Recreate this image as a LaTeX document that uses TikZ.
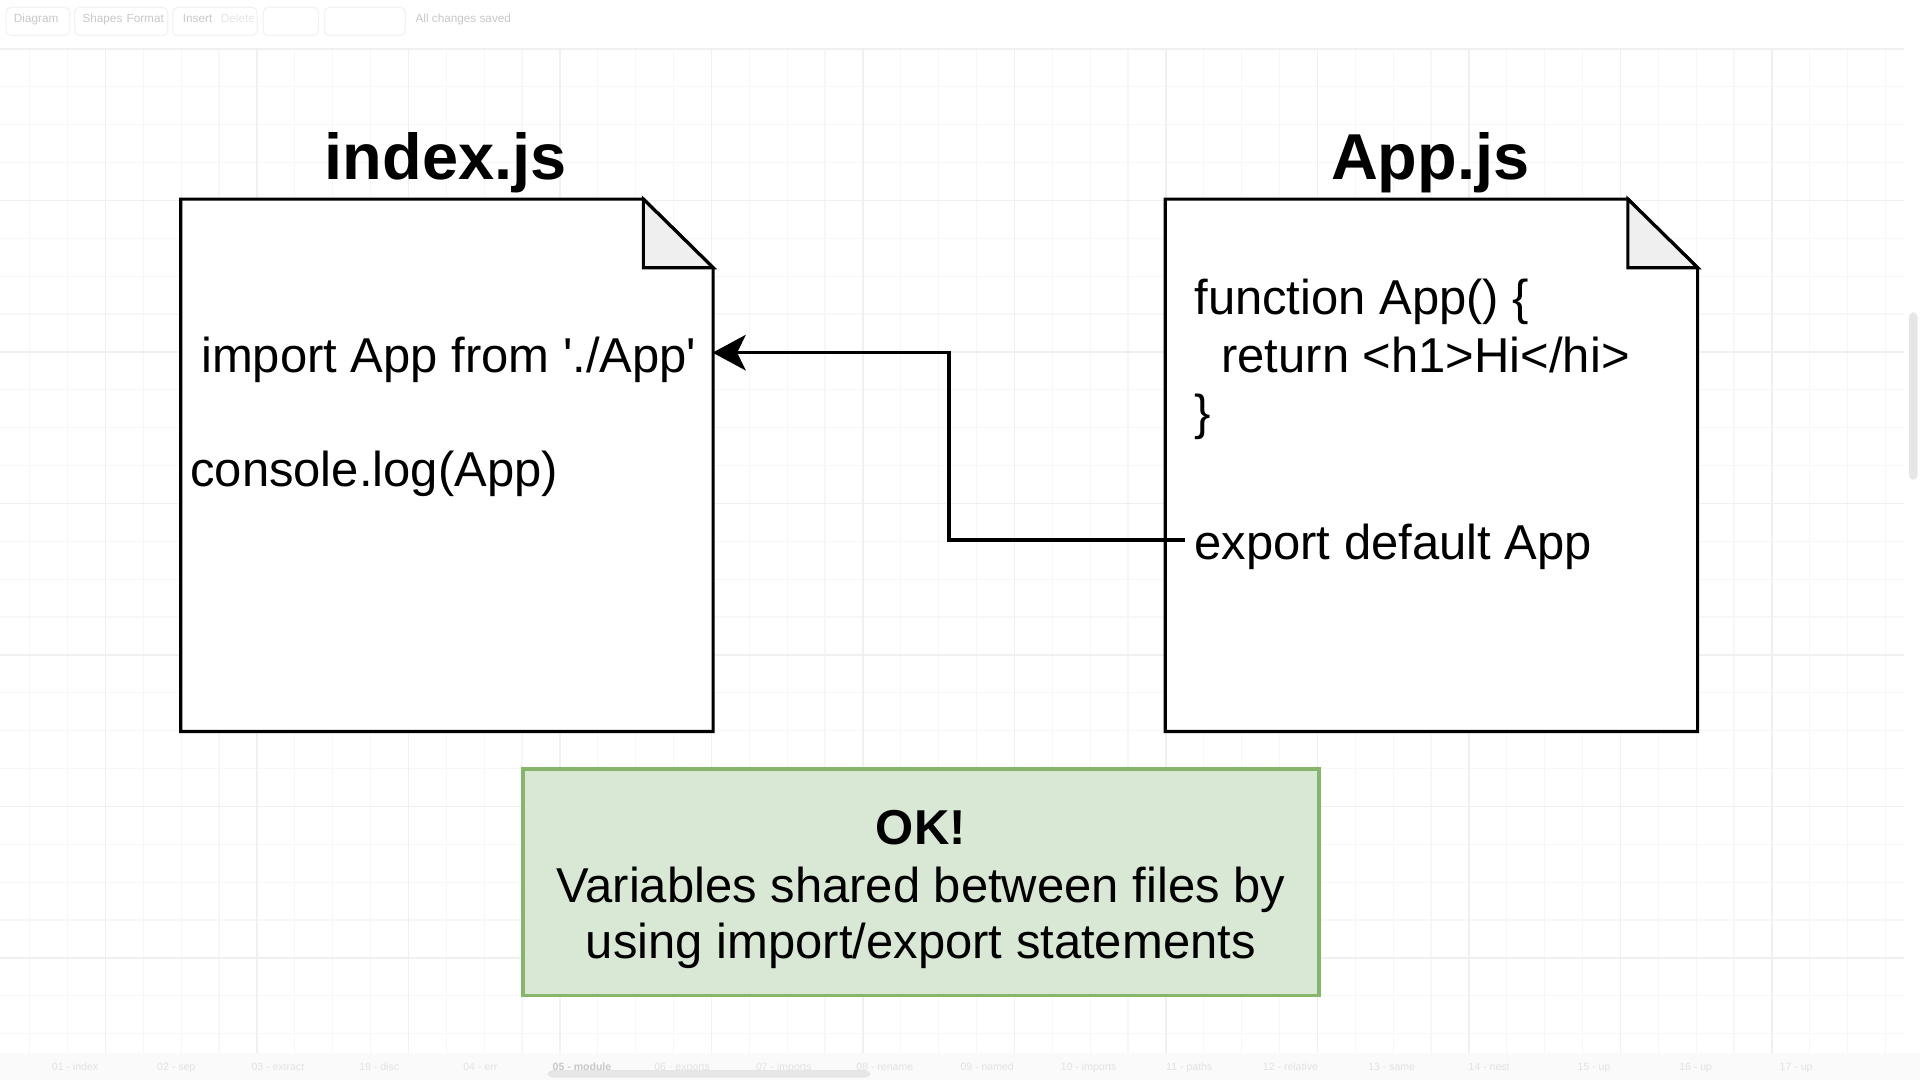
\documentclass[tikz,border=0pt]{standalone}
\usepackage{fontspec}
\setmainfont{Liberation Sans}
\usetikzlibrary{arrows.meta}
\definecolor{gridminor}{HTML}{F7F7F7}
\definecolor{gridmajor}{HTML}{F0F0F0}
\definecolor{foldc}{HTML}{EFEFEF}
\definecolor{okfill}{HTML}{D9E7D5}
\definecolor{okline}{HTML}{86B56C}
\definecolor{uitext}{HTML}{C8C8C8}
\definecolor{uiline}{HTML}{F3F3F3}
\definecolor{uifaint}{HTML}{E6E6E6}
\definecolor{tabtext}{HTML}{E2E2E2}
\definecolor{tabbar}{HTML}{FAFAFA}
\definecolor{scrollc}{HTML}{E6E6E6}
\tikzset{
  gridline/.style={draw=gridminor, line width=0.5pt},
  gridmaj/.style={draw=gridmajor, line width=0.6pt},
  docbox/.style={rectangle, minimum width=217pt, minimum height=217pt, inner sep=0pt},
  docline/.style={draw=black, line width=1.3pt, fill=white},
  foldtri/.style={draw=black, line width=1.3pt, fill=foldc, line join=miter},
  titletext/.style={font=\fontsize{26.5}{30}\selectfont\bfseries, inner sep=0pt, anchor=base},
  codetext/.style={font=\fontsize{20}{24}\selectfont, inner sep=0pt, anchor=base west},
  porttext/.style={font=\fontsize{20}{24}\selectfont, inner ysep=0pt, text height=16pt, text depth=0pt},
  conn/.style={draw=black, line width=1.3pt, -{Stealth[length=13.5pt,width=14.5pt,inset=3.5pt]}},
  okbox/.style={rectangle, draw=okline, fill=okfill, line width=1.6pt, minimum width=325pt, minimum height=92.5pt, inner sep=0pt},
  oktext/.style={font=\fontsize{20}{24}\selectfont, inner sep=0pt, anchor=base},
  uilabel/.style={font=\fontsize{4.8}{5}\selectfont, text=uitext, inner sep=0pt, anchor=base west},
  tablabel/.style={font=\fontsize{4.3}{5}\selectfont, text=tabtext, inner sep=0pt, anchor=base west},
  uibtn/.style={draw=uiline, line width=0.5pt, rounded corners=2pt},
}
\begin{document}
\begin{tikzpicture}[x=0.5pt, y=-0.5pt]
\useasboundingbox (0,0) rectangle (1568,882);
\fill[white] (0,0) rectangle (1568,882);

% faint editor grid
\foreach \k in {0,...,26} {
  \draw[gridline] (0,{40+30.93*\k}) -- (1555,{40+30.93*\k});
}
\foreach \k in {-4,...,45} {
  \draw[gridline] ({148+30.93*\k},40) -- ({148+30.93*\k},860);
}
\foreach \k in {0,4,...,24} {
  \draw[gridmaj] (0,{40+30.93*\k}) -- (1555,{40+30.93*\k});
}
\foreach \k in {-2,2,...,42} {
  \draw[gridmaj] ({148+30.93*\k},40) -- ({148+30.93*\k},860);
}

% toolbar (faint)
\draw[uibtn] (5,6) rectangle (57,29);
\draw[uibtn] (61,6) rectangle (137,29);
\draw[uibtn] (141,6) rectangle (210,29);
\draw[uibtn] (215,6) rectangle (260,29);
\draw[uibtn] (265,6) rectangle (331,29);
\node[uilabel] (tbdiagram) at (11,18) {Diagram};
\node[uilabel] (tbshapes) at (67,18) {Shapes};
\node[uilabel] (tbformat) at (103,18) {Format};
\node[uilabel] (tbinsert) at (149,18) {Insert};
\node[uilabel, text=uifaint] (tbdelete) at (180,18) {Delete};
\node[uilabel] (tbsaved) at (339,18) {All changes saved};

% tab bar and scrollbars (faint)
\fill[tabbar] (0,860) rectangle (1568,882);
\fill[scrollc, rounded corners=2pt] (447,874) rectangle (711,880);
\fill[scrollc, rounded corners=2pt] (1559,255) rectangle (1566,392);
\node[tablabel] (tab01) at (42,874) {01 - index};
\node[tablabel] (tab02) at (128,874) {02 - sep};
\node[tablabel] (tab03) at (205,874) {03 - extract};
\node[tablabel] (tab18) at (293,874) {18 - disc};
\node[tablabel] (tab04) at (378,874) {04 - err};
\node[tablabel, text=uitext, font=\fontsize{4.3}{5}\selectfont\bfseries] (tab05) at (451,874) {05 - module};
\node[tablabel] (tab06) at (534,874) {06 - exports};
\node[tablabel] (tab07) at (617,874) {07 - imports};
\node[tablabel] (tab08) at (699,874) {08 - rename};
\node[tablabel] (tab09) at (784,874) {09 - named};
\node[tablabel] (tab10) at (866,874) {10 - imports};
\node[tablabel] (tab11) at (952,874) {11 - paths};
\node[tablabel] (tab12) at (1031,874) {12 - relative};
\node[tablabel] (tab13) at (1117,874) {13 - same};
\node[tablabel] (tab14) at (1199,874) {14 - nest};
\node[tablabel] (tab15) at (1288,874) {15 - up};
\node[tablabel] (tab16) at (1371,874) {16 - up};
\node[tablabel] (tab17) at (1453,874) {17 - up};

% titles
\node[titletext] (tidx) at (364,147) {index.js};
\node[titletext] (tapp) at (1168,147) {App.js};

% left document
\node[docbox] (idx) at (365,380) {};
\draw[docline] (idx.north west) -- ([xshift=-28.5pt]idx.north east) -- ([yshift=-28pt]idx.north east) -- (idx.south east) -- (idx.south west) -- cycle;
\filldraw[foldtri] ([xshift=-28.5pt]idx.north east) -- ([xshift=-28.5pt,yshift=-28pt]idx.north east) -- ([yshift=-28pt]idx.north east) -- cycle;

% right document
\node[docbox] (app) at (1169,380) {};
\draw[docline] (app.north west) -- ([xshift=-28.5pt]app.north east) -- ([yshift=-28pt]app.north east) -- (app.south east) -- (app.south west) -- cycle;
\filldraw[foldtri] ([xshift=-28.5pt]app.north east) -- ([xshift=-28.5pt,yshift=-28pt]app.north east) -- ([yshift=-28pt]app.north east) -- cycle;

% code in index.js
\node[porttext, anchor=east, inner xsep=6.5pt] (imp) at (582,288) {import App from \textquotesingle./App\textquotesingle};
\node[codetext] (clog) at (155,397) {console.log(App)};

% code in App.js
\node[codetext] (fn) at (975,257) {function App() \{};
\node[codetext] (ret) at (997,304) {return <h1>Hi</hi>};
\node[codetext] (brace) at (975,351) {\}};
\node[porttext, anchor=west, inner xsep=3.5pt] (exp) at (968,441) {export default App};

% connector
\draw[conn] (exp.west) -- ++(-96.5pt,0) |- (imp.east);

% note box
\node[okbox] (ok) at (752,720.5) {};
\node[oktext, font=\fontsize{20}{24}\selectfont\bfseries] (ok1) at (752,690) {OK!};
\node[oktext] (ok2) at (752,737) {Variables shared between files by};
\node[oktext] (ok3) at (752,783) {using import/export statements};
\end{tikzpicture}
\end{document}
